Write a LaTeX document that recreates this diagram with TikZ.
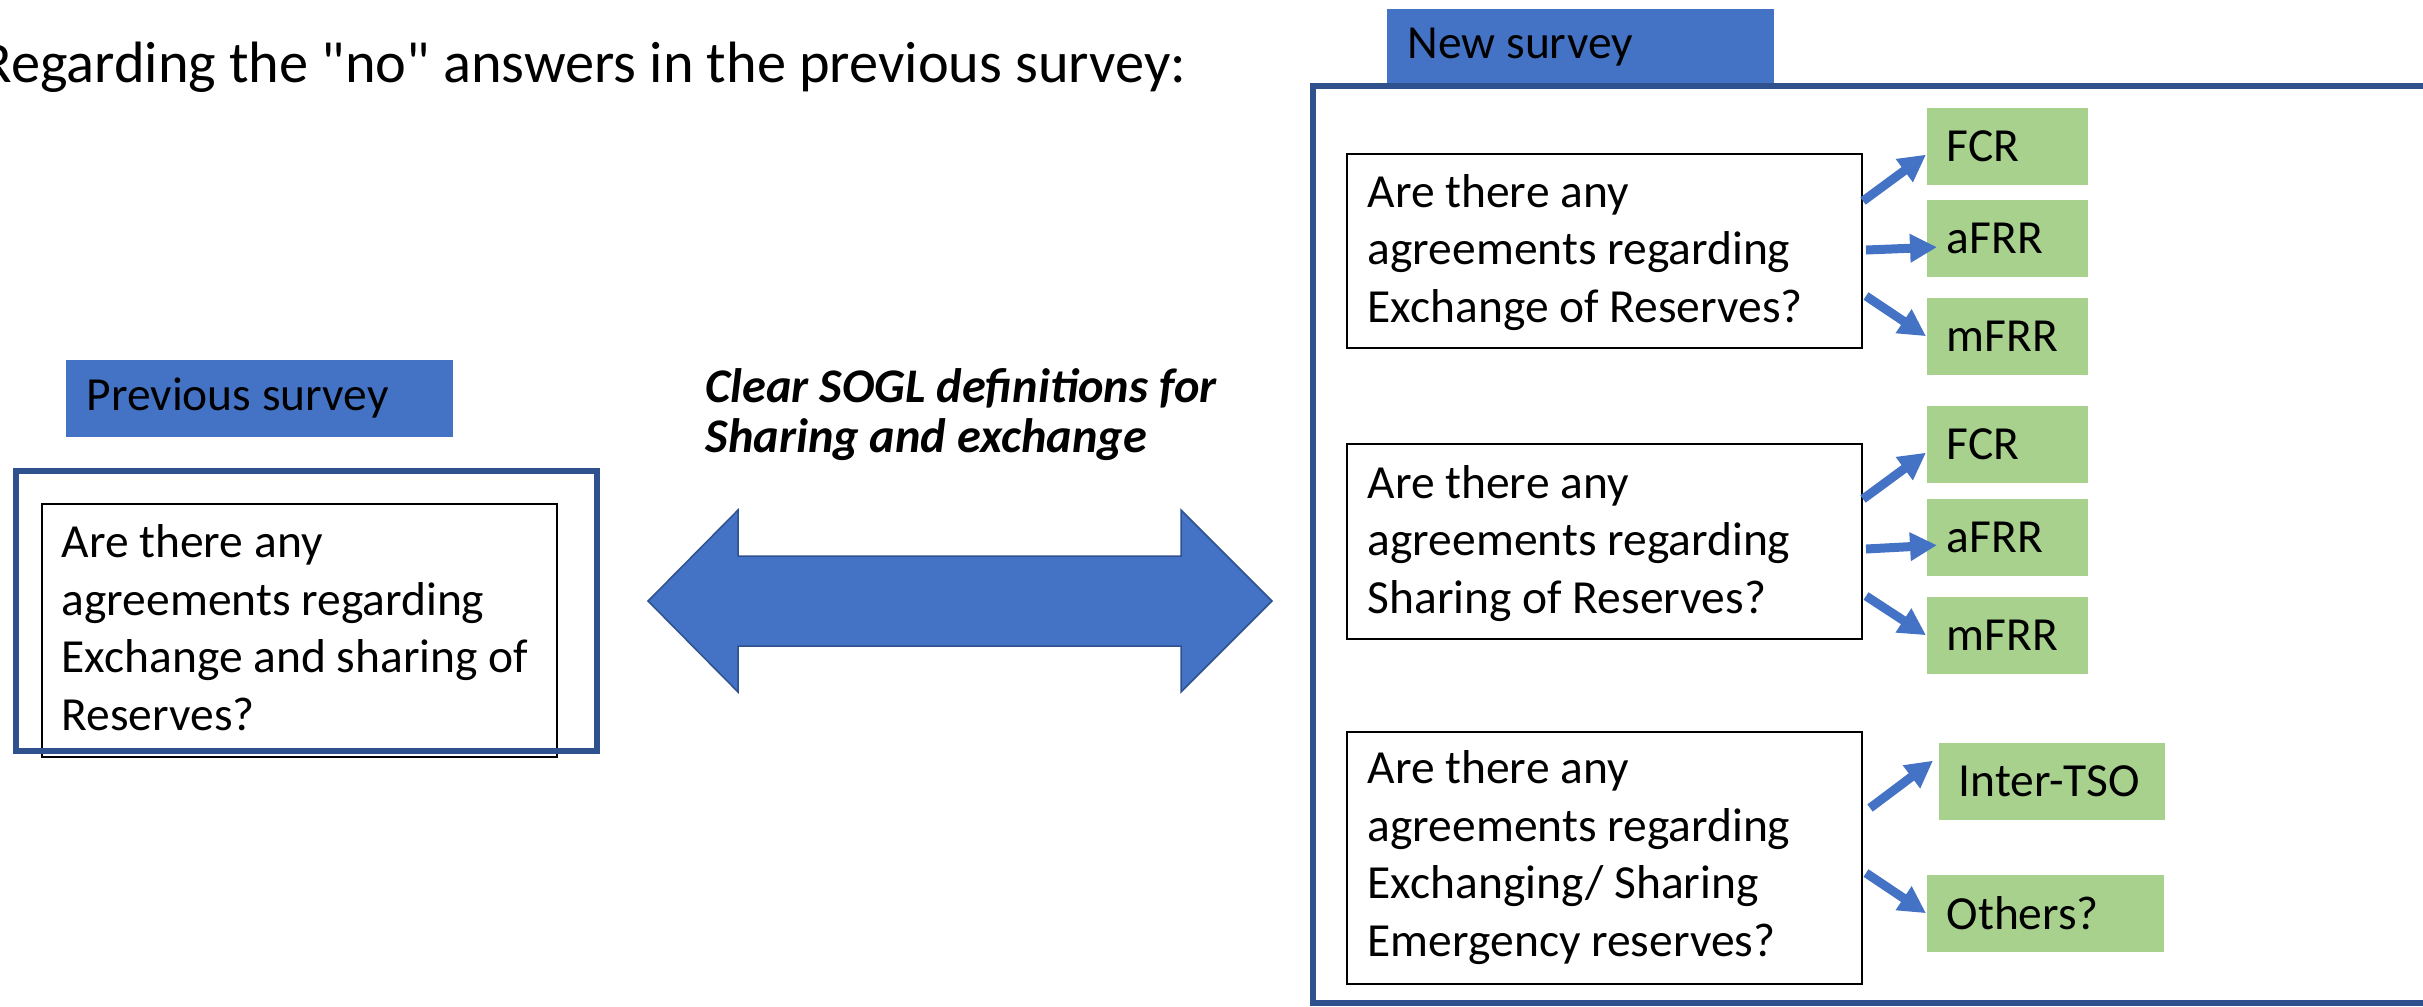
\documentclass[tikz,border=0pt]{standalone}
\usepackage{fontspec}
\setmainfont{Carlito}[Ligatures=TeXOff]
\usetikzlibrary{arrows.meta,calc}
\definecolor{boxblue}{HTML}{4472C4}
\definecolor{frameblue}{HTML}{2F528F}
\definecolor{optgreen}{HTML}{A9D18E}
\newlength\pu \setlength\pu{0.3pt}

\begin{document}
\begin{tikzpicture}[x=0.3pt,y=-0.3pt,
  body/.style={font=\fontsize{14.25pt}{17.25pt}\selectfont},
  tag/.style={fill=boxblue, minimum width=387\pu, minimum height=77\pu, inner xsep=21\pu, inner ysep=0pt,
    text width=345\pu, align=flush left, anchor=north west, body},
  surveyframe/.style={draw=frameblue, line width=6\pu},
  qbox/.style={draw=black, line width=2\pu, minimum width=515\pu, anchor=north west, inner sep=0pt},
  % anchored at the baseline of the last line
  qtext/.style={anchor=base west, align=left, inner sep=0pt, body},
  opt/.style={fill=optgreen, minimum height=77\pu, inner xsep=20\pu, inner ysep=0pt, align=flush left,
    anchor=north west, body},
  link/.style={draw=boxblue, line width=2.7pt, -{Triangle[length=8.1pt,width=8.1pt]}},
]
\useasboundingbox (0,0) rectangle (2423,1006);

% heading
\node[anchor=base east, inner sep=0pt, font=\fontsize{17.5pt}{20pt}\selectfont] (title) at (1187,82)
  {Regarding the "no" answers in the previous survey:};

% previous survey
\node[tag] (prevtag) at (65,359) {Previous survey};
\node[qbox, minimum height=253\pu] (prevq) at (41,503) {};
\node[qtext] (prevqt) at (61,730) {Are there any\\agreements regarding\\Exchange and sharing of\\Reserves?};
\node[surveyframe, anchor=north west, inner sep=0pt, minimum width=581\pu, minimum height=280\pu] (prevframe) at (13,468) {};

% definitions in between
\node[anchor=base west, align=left, inner sep=0pt, font=\bfseries\itshape\fontsize{14.5pt}{15pt}\selectfont] (sogl)
  at (705,452) {Clear SOGL definitions for\\Sharing and exchange};
\filldraw[fill=boxblue, draw=frameblue, line width=0.45pt]
  (648,601) -- (738,510) -- (738,556) -- (1181,556) -- (1181,510) -- (1272,601)
  -- (1181,692) -- (1181,646) -- (738,646) -- (738,692) -- cycle;

% new survey
\node[tag] (newtag) at (1386,8) {New survey};
\draw[surveyframe] (1313,86) rectangle (2450,1003);

\node[qbox, minimum height=194\pu] (q1) at (1346,153) {};
\node[qtext] (q1t) at (1367,322) {Are there any\\agreements regarding\\Exchange of Reserves?};
\node[qbox, minimum height=195\pu] (q2) at (1346,443) {};
\node[qtext] (q2t) at (1367,613) {Are there any\\agreements regarding\\Sharing of Reserves?};
\node[qbox, minimum height=252\pu] (q3) at (1346,731) {};
\node[qtext] (q3t) at (1367,956) {Are there any\\agreements regarding\\Exchanging/ Sharing\\Emergency reserves?};

\node[opt, text width=121\pu] (fcr1)  at (1926,107) {FCR};
\node[opt, text width=121\pu] (afrr1) at (1926,199) {aFRR};
\node[opt, text width=121\pu] (mfrr1) at (1926,297) {mFRR};
\node[opt, text width=121\pu] (fcr2)  at (1926,405) {FCR};
\node[opt, text width=121\pu] (afrr2) at (1926,498) {aFRR};
\node[opt, text width=121\pu] (mfrr2) at (1926,596) {mFRR};
\node[opt, text width=186\pu] (inter) at (1938,742) {Inter-TSO};
\node[opt, text width=197\pu] (others) at (1926,874) {Others?};

% answer arrows
\draw[link] ([yshift=15pt]q1.east) -- ([yshift=-2.55pt]fcr1.west);
\draw[link] ([xshift=0.9pt,yshift=0.3pt]q1.east) -- ([xshift=3.3pt,yshift=-2.7pt]afrr1.west);
\draw[link] ([xshift=0.9pt,yshift=-13.5pt]q1.east) -- (mfrr1.west);
\draw[link] ([yshift=12.75pt]q2.east) -- ([yshift=-2.55pt]fcr2.west);
\draw[link] ([xshift=0.9pt,yshift=-2.25pt]q2.east) -- ([xshift=3.3pt,yshift=-2.4pt]afrr2.west);
\draw[link] ([xshift=0.9pt,yshift=-16.35pt]q2.east) -- (mfrr2.west);
\draw[link] ([xshift=2.1pt,yshift=15pt]q3.east) -- ([xshift=-1.5pt,yshift=6.15pt]inter.west);
\draw[link] ([xshift=0.9pt,yshift=-4.5pt]q3.east) -- (others.west);
\end{tikzpicture}
\end{document}
